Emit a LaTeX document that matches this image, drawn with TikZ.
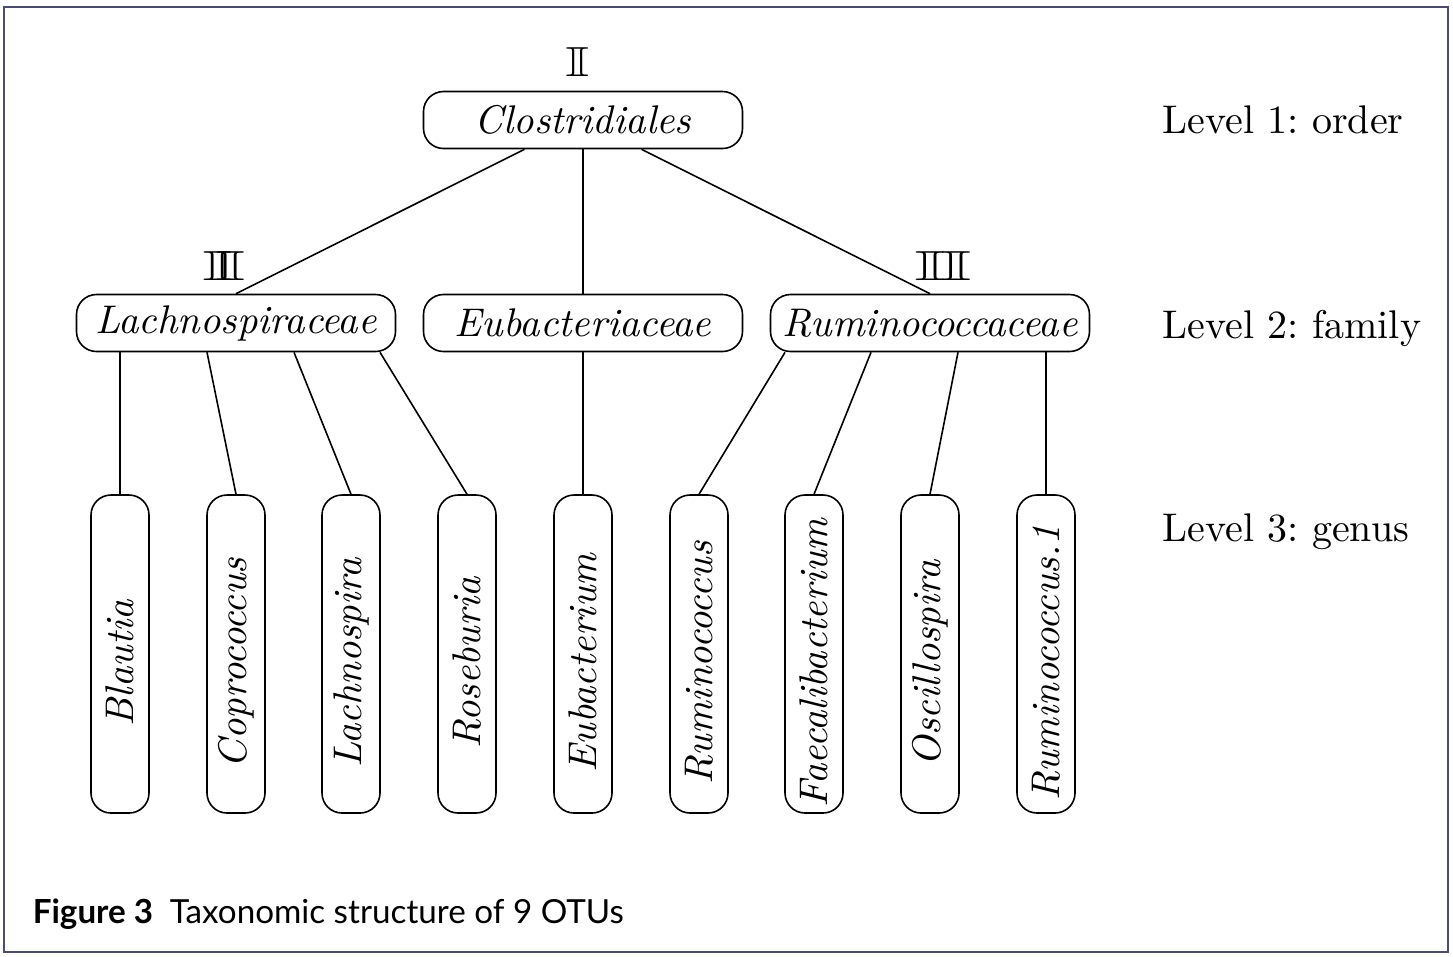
\documentclass[tikz,border=0pt]{standalone}
\usepackage{amssymb}
\usepackage{graphicx}
\usepackage{fontspec}
\usetikzlibrary{calc}
\newfontfamily\capfont{Lato}
\frenchspacing
\newcommand{\bbI}{\mathbb{I}}
\newcommand{\gtext}[1]{\rotatebox{90}{#1\hspace*{4.5pt}}}
\begin{document}
\begin{tikzpicture}[x=0.25pt,y=-0.25pt,
  taxbox/.style={draw, rounded corners=5pt, minimum width=79.75pt, minimum height=14.25pt, inner sep=0pt, font=\itshape},
  genbox/.style={draw, rounded corners=5pt, minimum width=14.5pt, minimum height=79.5pt, inner sep=0pt, font=\itshape},
  lvl/.style={anchor=base west, inner sep=0pt},
  tally/.style={inner sep=0pt},
  conn/.style={draw, line width=0.4pt}
]
\useasboundingbox (0,0) rectangle (1453,956);
\draw[line width=0.55pt, draw=black!70!blue!40!gray] (4,7) rectangle (1448,952);

% level 1
\node[taxbox] (clos) at (583,120) {Clostridiales};
% level 2
\node[taxbox] (lach) at (236,323) {Lachnospiraceae};
\node[taxbox] (eub) at (583,323) {Eubacteriaceae};
\node[taxbox] (rum) at (930,323) {Ruminococcaceae};
% level 3
\node[genbox] (blau) at (120,654) {\gtext{Blautia}};
\node[genbox] (copr) at (236,654) {\gtext{Coprococcus}};
\node[genbox] (lachn) at (351,654) {\gtext{Lachnospira}};
\node[genbox] (rose) at (467,654) {\gtext{Roseburia}};
\node[genbox] (euba) at (583,654) {\gtext{Eubacterium}};
\node[genbox] (rumi) at (699,654) {\gtext{Ruminococcus}};
\node[genbox] (faec) at (814,654) {\gtext{Faecalibacterium}};
\node[genbox] (osci) at (930,654) {\gtext{Oscillospira}};
\node[genbox] (rumo) at (1046,654) {\gtext{Ruminococcus.1}};

% tally marks
\node[tally] (t1) at (578,62) {\scalebox{1.56}[1.05]{$\bbI$}};
\node[tally] (t2) at (224,266) {\scalebox{1.95}[1.05]{$\bbI\kern-2.29pt\bbI$}};
\node[tally] (t3) at (943,266) {\scalebox{2.03}[1.05]{$\bbI\kern-0.69pt\bbI$}};

% level labels
\node[lvl] (l1) at (1162,133) {Level 1: order};
\node[lvl] (l2) at (1162,338) {Level 2: family};
\node[lvl] (l3) at (1162,541) {Level 3: genus};

% connectors level 1 -> 2
\path[conn] (clos) -- (lach.north);
\path[conn] (clos) -- (eub.north);
\path[conn] (clos) -- (rum.north);
% level 2 -> 3
\path[conn] ($(lach.south)+(-116,0)$) -- (blau.north);
\path[conn] ($(lach.south)+(-29,0)$) -- (copr.north);
\path[conn] ($(lach.south)+(58,0)$) -- (lachn.north);
\path[conn] ($(lach.south)+(144,0)$) -- (rose.north);
\path[conn] (eub.south) -- (euba.north);
\path[conn] ($(rum.south)+(-145,0)$) -- (rumi.north);
\path[conn] ($(rum.south)+(-59,0)$) -- (faec.north);
\path[conn] ($(rum.south)+(28,0)$) -- (osci.north);
\path[conn] ($(rum.south)+(116,0)$) -- (rumo.north);

% caption
\node[anchor=base west, inner sep=0pt, font=\capfont\fontsize{8.3pt}{10pt}\selectfont] (cap) at (32,923) {\textbf{Figure 3}\hspace{0.5em}Taxonomic structure of 9 OTUs};
\end{tikzpicture}
\end{document}
